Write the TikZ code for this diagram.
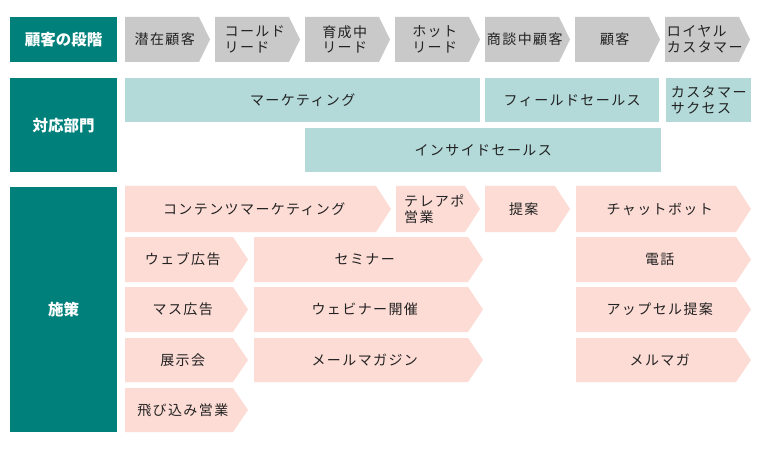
\documentclass[tikz,border=0pt]{standalone}
\usepackage{fontspec}
\setmainfont{Noto Sans CJK JP}
\newfontfamily\jpsp{Noto Sans CJK JP}[LetterSpace=10]
\definecolor{tealc}{HTML}{00807B}
\definecolor{grayc}{HTML}{C9C9C9}
\definecolor{ltealc}{HTML}{B3D9D9}
\definecolor{pinkc}{HTML}{FDDCD5}
\definecolor{txtc}{HTML}{222222}
\tikzset{
  lab/.style={font=\jpsp\fontsize{14}{15.5}\selectfont, text=txtc, align=left, inner sep=0pt},
  head/.style={font=\bfseries\fontsize{15.5}{17}\selectfont, text=white, fill=tealc, inner sep=0pt, anchor=north west, align=center},
  bar/.style={font=\jpsp\fontsize{14}{15.5}\selectfont, text=txtc, fill=ltealc, inner sep=0pt, anchor=north west, align=left},
}
% name, x1, y1, x2, y2, colour, tip, text
\newcommand\chevron[8]{%
  \fill[#6] (#2,#3) -- ({#4-#7},#3) -- (#4,{(#3+#5)/2}) -- ({#4-#7},#5) -- (#2,#5) -- cycle;
  \node[lab] (#1) at ({(#2+#4-#7/2)/2},{(#3+#5)/2}) {#8};
}
\begin{document}
\begin{tikzpicture}[x=1pt,y=-1pt]
\fill[white] (0,0) rectangle (760,449);
\useasboundingbox (0,0) rectangle (760,449);
% headers
\node[head, minimum width=107pt, minimum height=45pt] (h1) at (10,17) {顧客の段階};
\node[head, minimum width=107pt, minimum height=94pt] (h2) at (10,78) {対応部門};
\node[head, minimum width=107pt, minimum height=245pt] (h3) at (10,187) {施策};
% stages
\chevron{s1}{125}{17}{210}{62}{grayc}{11}{潜在顧客}
\chevron{s2}{215}{17}{300}{62}{grayc}{11}{コールド\\リード}
\chevron{s3}{305}{17}{390}{62}{grayc}{11}{育成中\\リード}
\chevron{s4}{395}{17}{480}{62}{grayc}{11}{ホット\\リード}
\chevron{s5}{485}{17}{570}{62}{grayc}{11}{商談中顧客}
\chevron{s6}{575}{17}{660}{62}{grayc}{11}{顧客}
\chevron{s7}{665}{17}{750}{62}{grayc}{11}{ロイヤル\\カスタマー}
% departments
\node[bar, minimum width=355pt, minimum height=44pt] (d1) at (125,78) {マーケティング};
\node[bar, minimum width=174pt, minimum height=44pt] (d2) at (485,78) {フィールドセールス};
\node[bar, minimum width=85pt, minimum height=44pt] (d3) at (666,78) {カスタマー\\サクセス};
\node[bar, minimum width=356pt, minimum height=44pt] (d4) at (305,128) {インサイドセールス};
% measures
\chevron{m1}{125}{186}{391}{232}{pinkc}{15}{コンテンツマーケティング}
\chevron{m2}{396}{186}{480}{232}{pinkc}{15}{テレアポ\\営業}
\chevron{m3}{485}{186}{570}{232}{pinkc}{15}{提案}
\chevron{m4}{576}{186}{751}{232}{pinkc}{15}{チャットボット}
\chevron{m5}{125}{237}{248}{282}{pinkc}{15}{ウェブ広告}
\chevron{m6}{254}{237}{483}{282}{pinkc}{15}{セミナー}
\chevron{m7}{576}{237}{751}{282}{pinkc}{15}{電話}
\chevron{m8}{125}{287}{248}{332}{pinkc}{15}{マス広告}
\chevron{m9}{254}{287}{483}{332}{pinkc}{15}{ウェビナー開催}
\chevron{m10}{576}{287}{751}{332}{pinkc}{15}{アップセル提案}
\chevron{m11}{125}{338}{248}{382}{pinkc}{15}{展示会}
\chevron{m12}{254}{338}{483}{382}{pinkc}{15}{メールマガジン}
\chevron{m13}{576}{338}{751}{382}{pinkc}{15}{メルマガ}
\chevron{m14}{125}{388}{248}{432}{pinkc}{15}{飛び込み営業}
\end{tikzpicture}
\end{document}
